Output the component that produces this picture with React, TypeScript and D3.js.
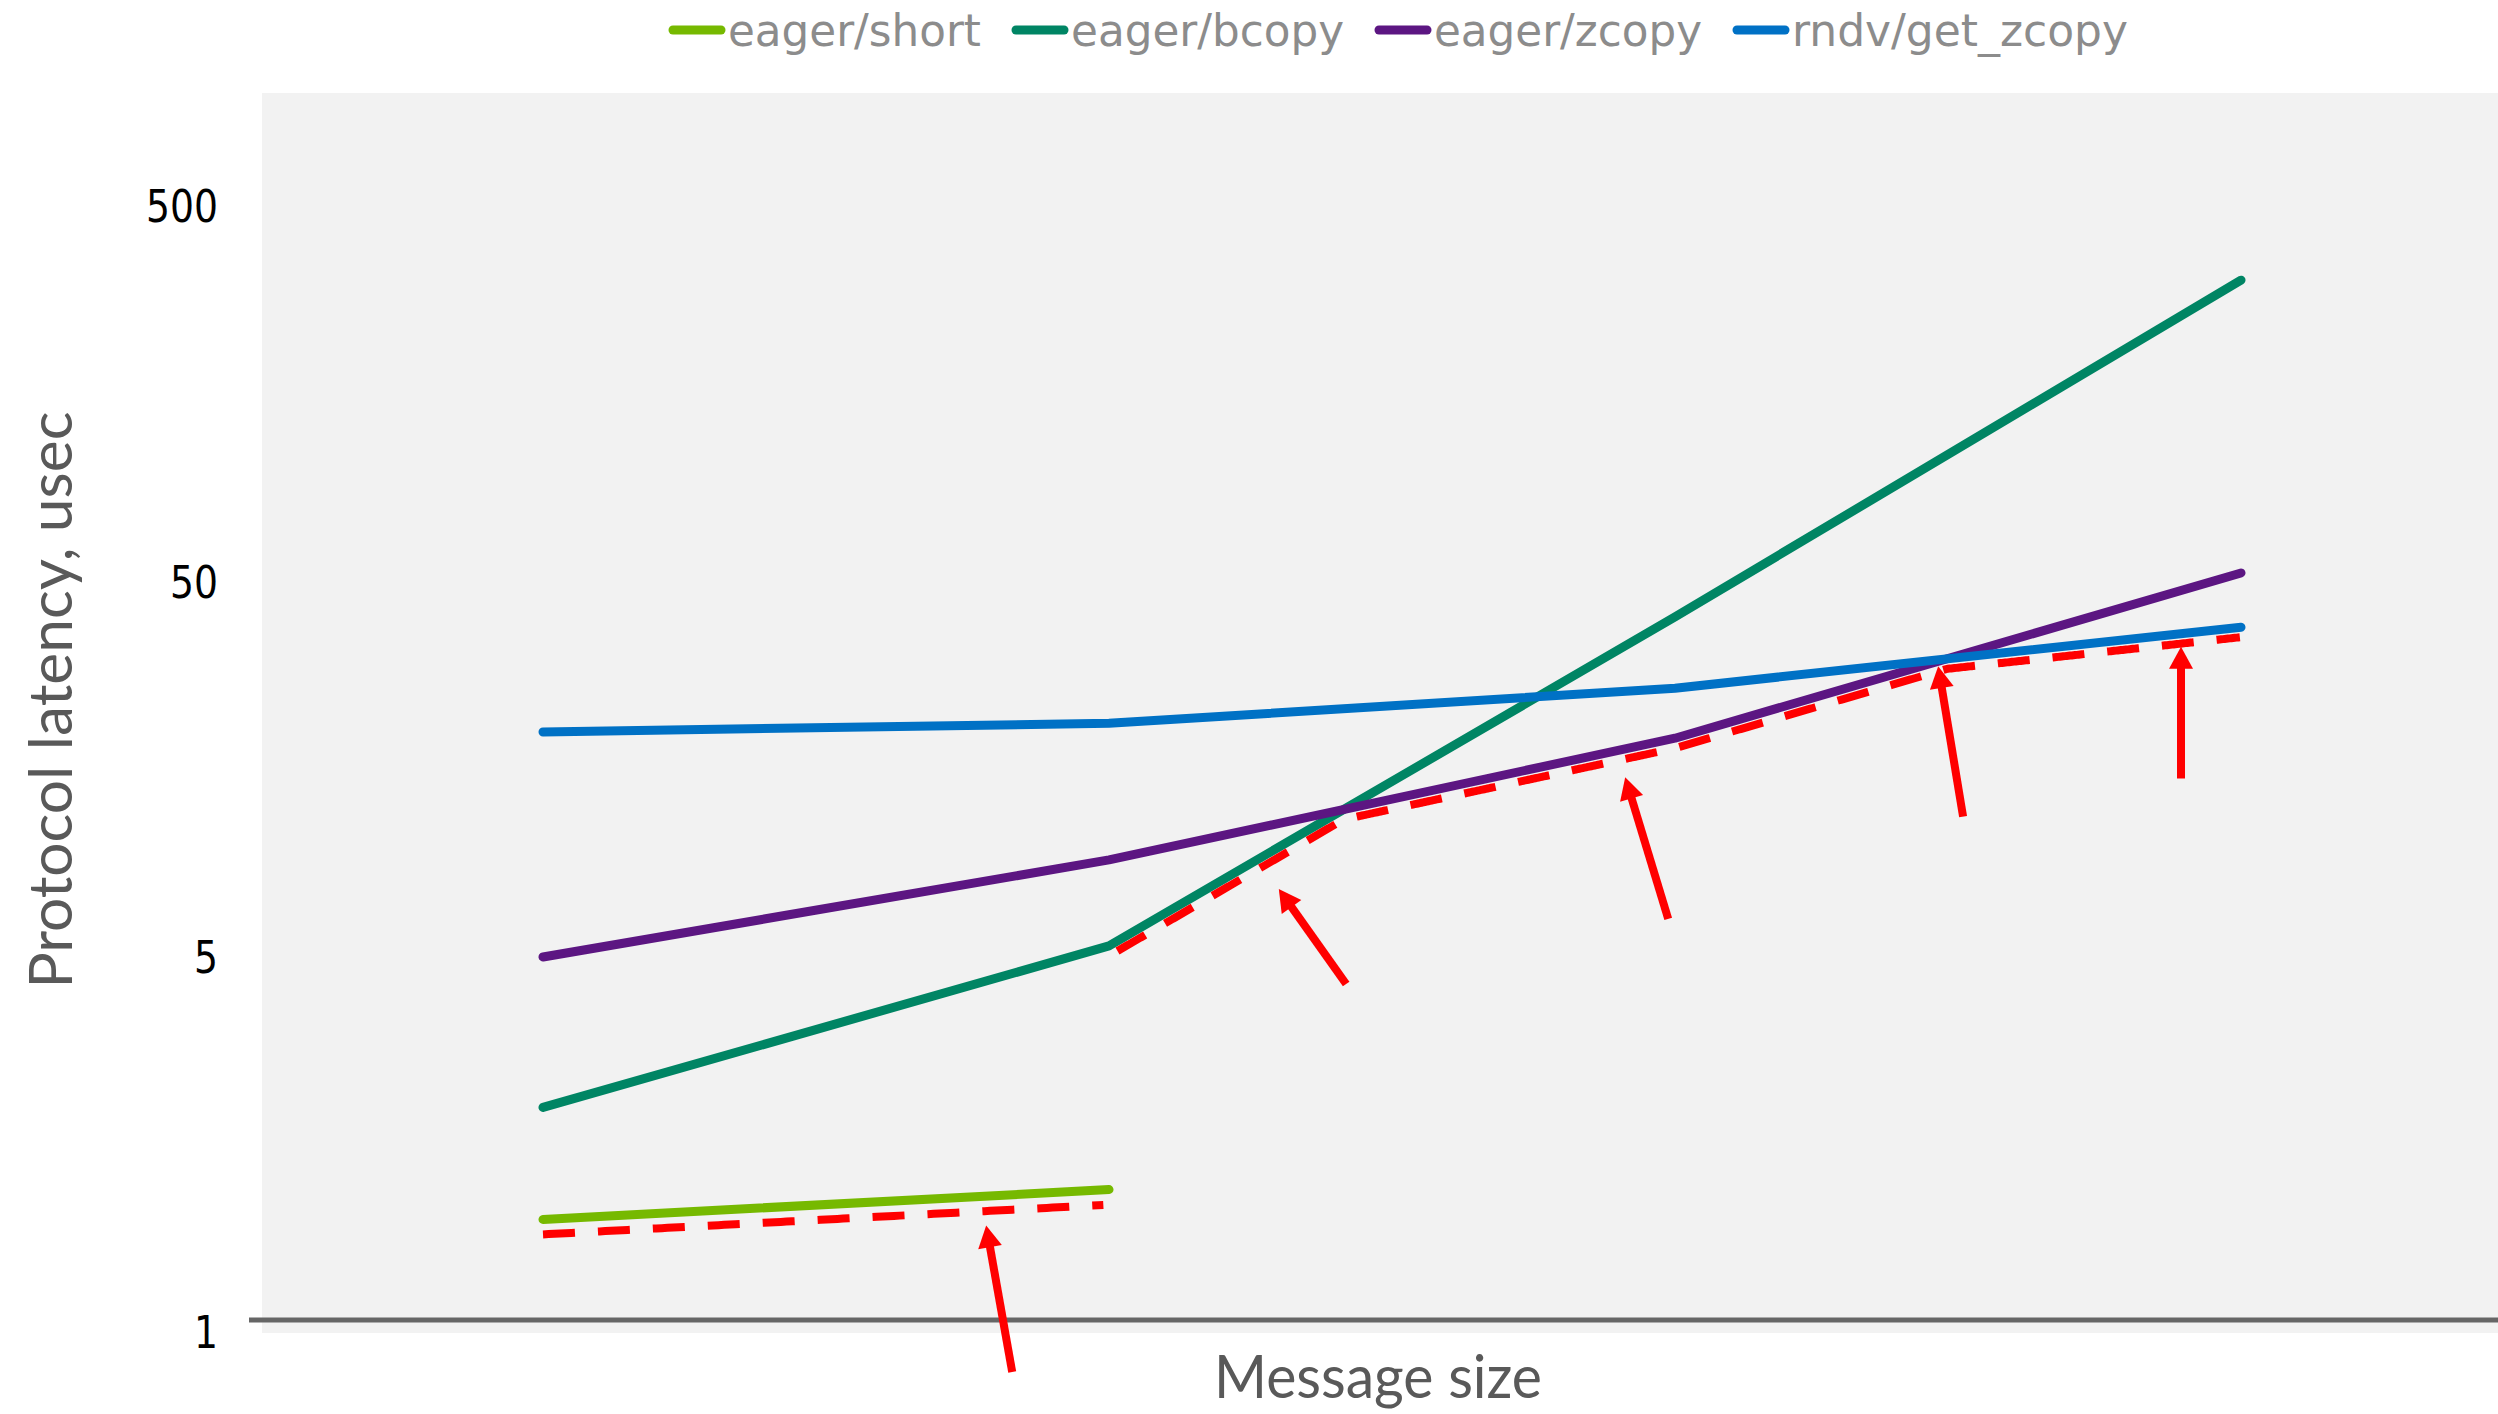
import React from 'react';
import * as d3 from 'd3';

// ---- data ----
const categories = [0, 1, 2, 3]; // message size steps (unlabelled in the original)
const seriesNames = ['eager/short', 'eager/bcopy', 'eager/zcopy', 'rndv/get_zcopy'];
const seriesColors = ['#76B900', '#008564', '#5C1682', '#0071C5'];
const eagerShort: (number | null)[] = [1.54, 1.75, null, null];
const eagerBcopy: (number | null)[] = [2.49, 4.98, 37.5, 295];
const eagerZcopy: (number | null)[] = [4.75, 8.43, 17.8, 49.1];
const rndvGetZcopy: (number | null)[] = [18.5, 19.5, 24.2, 35.2];
const yTickValues = [1, 5, 50, 500];
const yTickLabels = ['1', '5', '50', '500'];
// annotation arrows: [category position, latency] for tail and tip
const arrowTails = [[0.829, 0.8], [1.419, 4.23], [1.988, 5.87], [2.509, 11.0], [2.894, 13.9]];
const arrowTips = [[0.783, 1.5], [1.3, 7.05], [1.912, 14.0], [2.465, 27.7], [2.894, 31.2]];
const legendTextWidths = [253, 273, 268, 336];

const W = 2498;
const H = 1414;

export default function App() {
  const allSeries = [eagerShort, eagerBcopy, eagerZcopy, rndvGetZcopy];
  const x = d3.scaleLinear().domain([0, categories.length - 1]).range([543, 2241]);
  const y = d3.scaleLog().domain([1, 5, 50, 500]).range([1320, 945, 570, 194]);

  const line = d3
    .line<[number, number | null]>()
    .defined((d) => d[1] != null)
    .x((d) => x(d[0]))
    .y((d) => y(d[1] as number));

  const pyAt = (s: (number | null)[], t: number) => {
    const i = Math.min(Math.floor(t), s.length - 2);
    const f = t - i;
    const a = s[i], b = s[i + 1];
    if (a == null || b == null) return null;
    const y0 = y(a), y1 = y(b);
    return y0 + (y1 - y0) * f;
  };

  // red dashed "best protocol" envelope
  const env1: [number, number][] = [];
  for (let t = 0; t <= 1.0001; t += 0.01) {
    const v = pyAt(eagerShort, Math.min(t, 1));
    if (v != null) env1.push([x(Math.min(t, 1)), v + 15]);
  }
  const env2: [number, number][] = [];
  for (let t = 1.015; t <= 3.0001; t += 0.003) {
    const tt = Math.min(t, 3);
    const ys = [eagerBcopy, eagerZcopy, rndvGetZcopy].map((s) => pyAt(s, tt) as number);
    env2.push([x(tt), Math.max(...ys) + 10]);
  }
  const pathLine = d3.line();

  const arrows = arrowTails.map((tl, i) => {
    const tp = arrowTips[i];
    const x1 = x(tl[0]), y1 = y(tl[1]);
    const x2 = x(tp[0]), y2 = y(tp[1]);
    const dx = x2 - x1, dy = y2 - y1;
    const len = Math.hypot(dx, dy);
    const ux = dx / len, uy = dy / len;
    const headL = 22, headW = 12;
    const bx = x2 - ux * headL, by = y2 - uy * headL;
    const px = -uy, py = ux;
    const head = `M${x2},${y2}L${bx + px * headW},${by + py * headW}L${bx - px * headW},${by - py * headW}Z`;
    return { x1, y1, bx: bx + ux * 2, by: by + uy * 2, head };
  });

  let lx = 669;
  const legendItems = seriesNames.map((name, i) => {
    const item = { name, color: seriesColors[i], x: lx, w: legendTextWidths[i] };
    lx = lx + 59 + legendTextWidths[i] + 31;
    return item;
  });

  return (
    <svg width={W} height={H} style={{ position: 'absolute', left: 0, top: 0, background: '#fff' }}>
      <rect x={262} y={93} width={W - 262} height={1333 - 93} fill="#F2F2F2" />
      <line x1={249} x2={W} y1={y(1)} y2={y(1)} stroke="#666666" strokeWidth={5} />

      {yTickValues.map((v, i) => (
        <text key={v} x={218} y={y(v) + 12} textAnchor="end" dominantBaseline="central"
          fontFamily="DejaVu Sans, Verdana, sans-serif" fontSize={44} fill="#000"
          textLength={yTickLabels[i].length * 24} lengthAdjust="spacingAndGlyphs">
          {yTickLabels[i]}
        </text>
      ))}

      <text transform="translate(72,700) rotate(-90)" textAnchor="middle" fontFamily="Lato, sans-serif"
        fontSize={60} fill="#595959" textLength={577} lengthAdjust="spacingAndGlyphs">
        Protocol latency, usec
      </text>
      <text x={1378} y={1398} textAnchor="middle" fontFamily="Lato, sans-serif" fontSize={60}
        fill="#595959" textLength={328} lengthAdjust="spacingAndGlyphs">
        Message size
      </text>

      {allSeries.map((s, i) => (
        <path key={seriesNames[i]}
          d={line(categories.map((c) => [c, s[c]] as [number, number | null])) || ''}
          fill="none" stroke={seriesColors[i]} strokeWidth={9} strokeLinecap="round" strokeLinejoin="round" />
      ))}

      <path d={pathLine(env1) || ''} fill="none" stroke="#FF0000" strokeWidth={8} strokeDasharray="32 23" />
      <path d={pathLine(env2) || ''} fill="none" stroke="#FF0000" strokeWidth={8} strokeDasharray="32 23" />

      {arrows.map((a, i) => (
        <g key={i}>
          <line x1={a.x1} y1={a.y1} x2={a.bx} y2={a.by} stroke="#FF0000" strokeWidth={8} />
          <path d={a.head} fill="#FF0000" />
        </g>
      ))}

      {legendItems.map((it) => (
        <g key={it.name}>
          <line x1={it.x + 4} x2={it.x + 52} y1={30} y2={30} stroke={it.color} strokeWidth={9} strokeLinecap="round" />
          <text x={it.x + 59} y={46} fontFamily="DejaVu Sans, Verdana, sans-serif" fontSize={44}
            fill="#8C8C8C" textLength={it.w} lengthAdjust="spacingAndGlyphs">
            {it.name}
          </text>
        </g>
      ))}
    </svg>
  );
}
